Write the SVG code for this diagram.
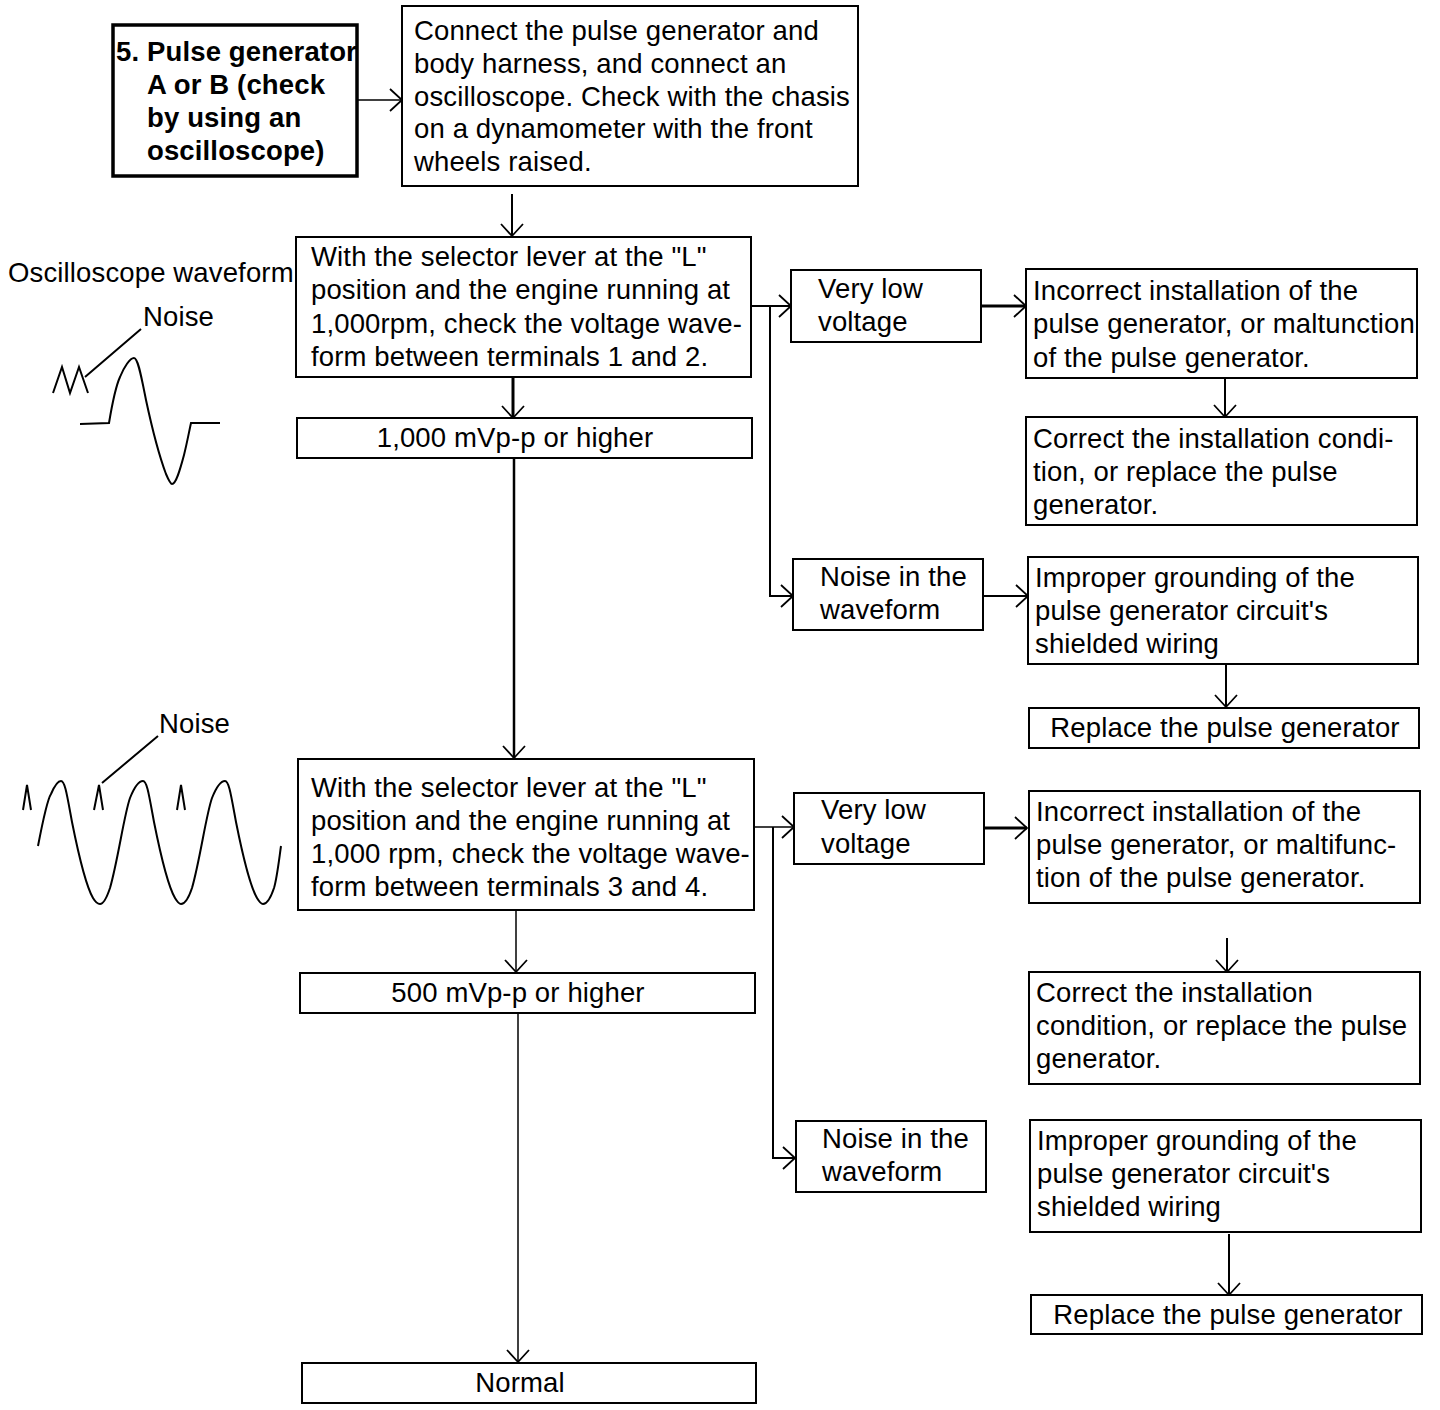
<svg xmlns="http://www.w3.org/2000/svg" width="1440" height="1410" viewBox="0 0 1440 1410">
<defs>
<marker id="a" markerUnits="userSpaceOnUse" markerWidth="16" markerHeight="26" refX="14" refY="13" orient="auto"><path d="M2 2L14 13L2 24" fill="none" stroke="#000" stroke-width="1.8"/></marker>
</defs>
<style>
text{font-family:"Liberation Sans",Arial,sans-serif;font-size:27.5px;letter-spacing:.14px;fill:#000}
.b{font-weight:bold}
rect{fill:#fff;stroke:#000;stroke-width:2}
.t{stroke-width:3.5}
.c path{fill:none;stroke:#000;stroke-width:2}
.w{fill:none;stroke:#000;stroke-width:2}
</style>
<rect width="1440" height="1410" style="fill:#fff;stroke:none"/>
<g id="connectors" class="c">
<path d="M358 100H402" style="stroke-width:1.5" marker-end="url(#a)"/>
<path d="M512 194V236" marker-end="url(#a)"/>
<path d="M752 306H791" marker-end="url(#a)"/>
<path d="M770 306V596H793" marker-end="url(#a)"/>
<path d="M981 306H1026" style="stroke-width:3" marker-end="url(#a)"/>
<path d="M1225 378V417" marker-end="url(#a)"/>
<path d="M983 596H1028" marker-end="url(#a)"/>
<path d="M1226 664V707" marker-end="url(#a)"/>
<path d="M513 377V418" style="stroke-width:3" marker-end="url(#a)"/>
<path d="M514 459V758" style="stroke-width:2.5" marker-end="url(#a)"/>
<path d="M755 827H794" style="stroke-width:1.5" marker-end="url(#a)"/>
<path d="M773 827V1158H795" marker-end="url(#a)"/>
<path d="M984 828H1027" style="stroke-width:3" marker-end="url(#a)"/>
<path d="M1227 938V972" marker-end="url(#a)"/>
<path d="M516 910V972" style="stroke-width:1.5" marker-end="url(#a)"/>
<path d="M518 1013V1362" style="stroke-width:1.5" marker-end="url(#a)"/>
<path d="M1229 1234V1295" marker-end="url(#a)"/>
</g>
<g id="n1"><rect class="t" x="113" y="25" width="244" height="151"/><text class="b"><tspan x="116" y="61">5. Pulse generator</tspan><tspan x="147" y="94">A or B (check</tspan><tspan x="147" y="127">by using an</tspan><tspan x="147" y="160">oscilloscope)</tspan></text></g>
<g id="n2"><rect x="402" y="6" width="456" height="180"/><text><tspan x="414" y="40">Connect the pulse generator and</tspan><tspan x="414" y="73">body harness, and connect an</tspan><tspan x="414" y="106">oscilloscope. Check with the chasis</tspan><tspan x="414" y="138">on a dynamometer with the front</tspan><tspan x="414" y="171">wheels raised.</tspan></text></g>
<g id="n3"><rect x="296" y="237" width="455" height="140"/><text><tspan x="311" y="266">With the selector lever at the "L"</tspan><tspan x="311" y="299">position and the engine running at</tspan><tspan x="311" y="333">1,000rpm, check the voltage wave-</tspan><tspan x="311" y="366">form between terminals 1 and 2.</tspan></text></g>
<g id="n4"><rect x="297" y="418" width="455" height="40"/><text x="515" y="447" text-anchor="middle">1,000 mVp-p or higher</text></g>
<g id="n5"><rect x="791" y="270" width="190" height="72"/><text><tspan x="818" y="298">Very low</tspan><tspan x="818" y="331">voltage</tspan></text></g>
<g id="n6"><rect x="1026" y="269" width="391" height="109"/><text><tspan x="1033" y="300">Incorrect installation of the</tspan><tspan x="1033" y="333">pulse generator, or maltunction</tspan><tspan x="1033" y="367">of the pulse generator.</tspan></text></g>
<g id="n7"><rect x="1026" y="417" width="391" height="108"/><text><tspan x="1033" y="448">Correct the installation condi-</tspan><tspan x="1033" y="481">tion, or replace the pulse</tspan><tspan x="1033" y="514">generator.</tspan></text></g>
<g id="n8"><rect x="793" y="559" width="190" height="71"/><text><tspan x="820" y="586">Noise in the</tspan><tspan x="820" y="619">waveform</tspan></text></g>
<g id="n9"><rect x="1028" y="557" width="390" height="107"/><text><tspan x="1035" y="587">Improper grounding of the</tspan><tspan x="1035" y="620">pulse generator circuit's</tspan><tspan x="1035" y="653">shielded wiring</tspan></text></g>
<g id="n10"><rect x="1029" y="708" width="390" height="40"/><text x="1225" y="737" text-anchor="middle">Replace the pulse generator</text></g>
<g id="n11"><rect x="298" y="759" width="456" height="151"/><text><tspan x="311" y="797">With the selector lever at the "L"</tspan><tspan x="311" y="830">position and the engine running at</tspan><tspan x="311" y="863">1,000 rpm, check the voltage wave-</tspan><tspan x="311" y="896">form between terminals 3 and 4.</tspan></text></g>
<g id="n12"><rect x="300" y="973" width="455" height="40"/><text x="518" y="1002" text-anchor="middle">500 mVp-p or higher</text></g>
<g id="n13"><rect x="794" y="793" width="190" height="71"/><text><tspan x="821" y="819">Very low</tspan><tspan x="821" y="853">voltage</tspan></text></g>
<g id="n14"><rect x="1029" y="791" width="391" height="112"/><text><tspan x="1036" y="821">Incorrect installation of the</tspan><tspan x="1036" y="854">pulse generator, or maltifunc-</tspan><tspan x="1036" y="887">tion of the pulse generator.</tspan></text></g>
<g id="n15"><rect x="1029" y="972" width="391" height="112"/><text><tspan x="1036" y="1002">Correct the installation</tspan><tspan x="1036" y="1035">condition, or replace the pulse</tspan><tspan x="1036" y="1068">generator.</tspan></text></g>
<g id="n16"><rect x="796" y="1121" width="190" height="71"/><text><tspan x="822" y="1148">Noise in the</tspan><tspan x="822" y="1181">waveform</tspan></text></g>
<g id="n17"><rect x="1030" y="1120" width="391" height="112"/><text><tspan x="1037" y="1150">Improper grounding of the</tspan><tspan x="1037" y="1183">pulse generator circuit's</tspan><tspan x="1037" y="1216">shielded wiring</tspan></text></g>
<g id="n18"><rect x="1031" y="1295" width="391" height="39"/><text x="1228" y="1324" text-anchor="middle">Replace the pulse generator</text></g>
<g id="n19"><rect x="302" y="1363" width="454" height="40"/><text x="520" y="1392" text-anchor="middle">Normal</text></g>
<g id="waveform1">
<text x="8" y="282">Oscilloscope waveform</text>
<text x="143" y="326">Noise</text>
<path class="w" d="M141 329L85 377M53 393L62 367L70 393L79 367L88 393"/>
<path class="w" d="M80 424L109 423C112 405 115 388 120 377C124 367 130 358 134 358C138 358 141 375 146 400C152 428 160 458 166 474C169 481 171 484 172 484C176 484 180 470 184 455C187 443 189 432 191 423H220"/>
</g>
<g id="waveform2">
<text x="159" y="733">Noise</text>
<path class="w" d="M158 736L102 783M23 810L27 785L31 810M94 810L99 785L103 810M177 810L181 785L185 810"/>
<path class="w" d="M38 846C43 820 47 800 51 794C54 787 58 781 61 781C65 781 67 795 72 822C78 852 86 886 93 898C96 903 98 904 100 904C103 904 106 900 110 888C118 860 124 815 130 798C134 788 139 781 143 781C147 781 149 795 154 822C160 852 168 886 175 898C178 903 180 904 181 904C184 904 188 900 192 888C200 860 206 815 212 798C216 788 221 781 225 781C229 781 231 795 236 822C242 852 250 886 257 898C260 903 262 904 263 904C266 904 270 900 274 888C277 878 279 860 281 846"/>
</g>
</svg>
